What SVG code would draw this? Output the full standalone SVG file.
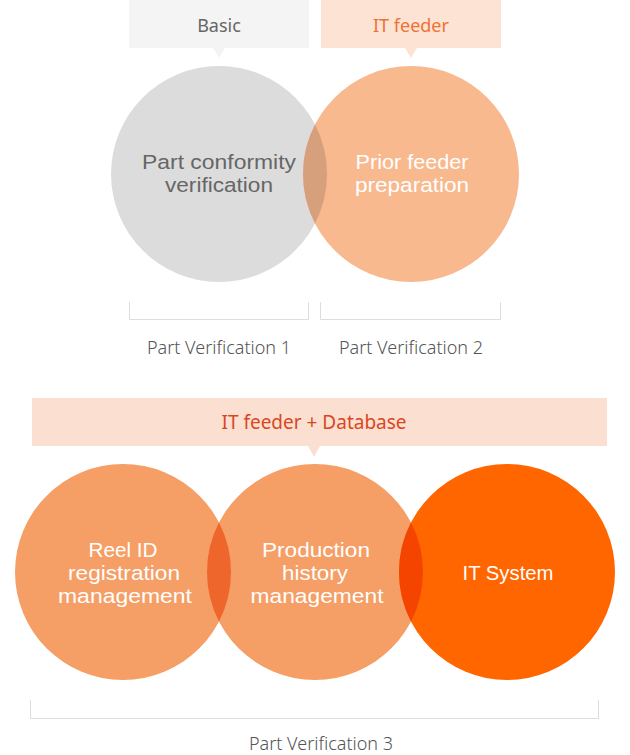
<svg xmlns="http://www.w3.org/2000/svg" width="630" height="755" viewBox="0 0 630 755">
<style>
.lbl{font-family:"Noto Sans","Open Sans","Liberation Sans",sans-serif;text-anchor:middle}
.c{font-family:"Liberation Sans",Arial,sans-serif;font-size:20.5px;text-anchor:middle}
.w{fill:#ffffff}
.g{fill:#666666}
.pv{font-family:"Noto Sans","Liberation Sans",sans-serif;font-weight:300;font-size:18px;fill:#555555;text-anchor:middle}
.br{fill:none;stroke:#dddddd;stroke-width:1}
</style>
<g id="basic-tag">
<path d="M129 0H309V48H225L219 58L213 48H129Z" fill="#f4f4f4"/>
<text class="lbl" x="219" y="32" font-size="18" fill="#666666">Basic</text>
</g>
<g id="itfeeder-tag">
<path d="M321 0H501V48H417L411 58L405 48H321Z" fill="#fce3d4"/>
<text class="lbl" x="411" y="32" font-size="18" fill="#f07134">IT feeder</text>
</g>
<g id="part-conformity">
<circle cx="219" cy="174" r="108" fill="#dcdcdc"/>
</g>
<g id="prior-feeder">
<circle cx="411" cy="174" r="108" fill="#f8b98f"/>
</g>
<path id="lens-top" d="M315 124.5A108 108 0 0 1 315 223.5A108 108 0 0 1 315 124.5Z" fill="#d6a07c"/>
<text class="c g" x="219" y="169" textLength="154" lengthAdjust="spacingAndGlyphs">Part conformity</text>
<text class="c g" x="219" y="192" textLength="108" lengthAdjust="spacingAndGlyphs">verification</text>
<text class="c w" x="412" y="169" textLength="113" lengthAdjust="spacingAndGlyphs">Prior feeder</text>
<text class="c w" x="412" y="192" textLength="114" lengthAdjust="spacingAndGlyphs">preparation</text>
<g id="brackets">
<path class="br" d="M129.5 302V319.5H308.5V302"/>
<path class="br" d="M320.5 302V319.5H500.5V302"/>
<path class="br" d="M30.5 700V718.5H598.5V700"/>
</g>
<text class="pv" x="219" y="354">Part Verification 1</text>
<text class="pv" x="411" y="354">Part Verification 2</text>
<g id="db-tag">
<path d="M32 398H607V446H320L314 457L308 446H32Z" fill="#fbe0d1"/>
<text class="lbl" x="314" y="429" font-size="19" fill="#d9471e">IT feeder + Database</text>
</g>
<g id="reel-id">
<circle cx="123" cy="572" r="108" fill="#f59e66"/>
</g>
<g id="production-history">
<circle cx="315" cy="572" r="108" fill="#f59e66"/>
</g>
<g id="it-system">
<circle cx="507" cy="572" r="108" fill="#ff6600"/>
</g>
<path d="M219 522.5A108 108 0 0 1 219 621.5A108 108 0 0 1 219 522.5Z" fill="#ef662c"/>
<path d="M411 522.5A108 108 0 0 1 411 621.5A108 108 0 0 1 411 522.5Z" fill="#f54400"/>
<text class="c w" x="123" y="557" textLength="69" lengthAdjust="spacingAndGlyphs">Reel ID</text>
<text class="c w" x="124" y="580" textLength="112" lengthAdjust="spacingAndGlyphs">registration</text>
<text class="c w" x="125" y="603" textLength="134" lengthAdjust="spacingAndGlyphs">management</text>
<text class="c w" x="316" y="557" textLength="108" lengthAdjust="spacingAndGlyphs">Production</text>
<text class="c w" x="315" y="580" textLength="66" lengthAdjust="spacingAndGlyphs">history</text>
<text class="c w" x="317" y="603" textLength="133" lengthAdjust="spacingAndGlyphs">management</text>
<text class="c w" x="508" y="580" textLength="91" lengthAdjust="spacingAndGlyphs">IT System</text>
<text class="pv" x="321" y="750">Part Verification 3</text>
</svg>
